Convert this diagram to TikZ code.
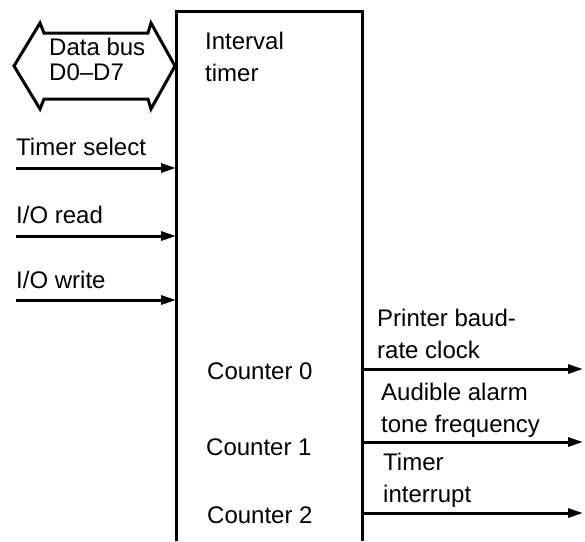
\documentclass[tikz,border=0pt]{standalone}
\usepackage{fontspec}
\setmainfont{Liberation Sans}
\usetikzlibrary{arrows.meta}
\begin{document}
\begin{tikzpicture}[x=1pt,y=-1pt,
  lbl/.style={anchor=base west, inner sep=0pt, font=\fontsize{24}{32}\selectfont, align=left},
  buslbl/.style={lbl, font=\fontsize{24}{24.5}\selectfont},
  sig/.style={line width=3pt, -{Triangle[length=15pt,width=9pt]}},
  boxline/.style={line width=3pt},
]
\useasboundingbox[fill=white] (0,0) rectangle (585,541);
% interval timer block (open at the bottom)
\coordinate (bl) at (176,541);
\coordinate (tl) at (176,11);
\coordinate (tr) at (362,11);
\coordinate (br) at (362,541);
\draw[boxline] (bl) -- (tl) -- (tr) -- (br);
\node[lbl] (title) at (205,81) {Interval\\timer};
\node[lbl] (c0) at (207,379) {Counter 0};
\node[lbl] (c1) at (206,455) {Counter 1};
\node[lbl] (c2) at (207,523) {Counter 2};
% data bus double arrow
\draw[boxline, line join=miter] (14,66) -- (40,23) -- (44,33) -- (148,33) -- (151,23) -- (175,66)
  -- (151,109) -- (148,99) -- (44,99) -- (40,109) -- cycle;
\node[buslbl] (bus) at (49,80) {Data bus\\D0--D7};
% inputs
\node[lbl] (tsl) at (16,155) {Timer select};
\node[lbl] (rdl) at (16,223) {I/O read};
\node[lbl] (wrl) at (16,288) {I/O write};
\coordinate (tsa) at (16,168); \coordinate (tsb) at (176,168);
\coordinate (rda) at (16,236); \coordinate (rdb) at (176,236);
\coordinate (wra) at (16,300); \coordinate (wrb) at (176,300);
\draw[sig] (tsa) -- (tsb);
\draw[sig] (rda) -- (rdb);
\draw[sig] (wra) -- (wrb);
% outputs
\node[lbl] (o0l) at (377,358) {Printer baud-\\rate clock};
\node[lbl] (o1l) at (381,432) {Audible alarm\\tone frequency};
\node[lbl] (o2l) at (383,502) {Timer\\interrupt};
\coordinate (o0a) at (362,369); \coordinate (o0b) at (583,369);
\coordinate (o1a) at (362,442); \coordinate (o1b) at (583,442);
\coordinate (o2a) at (362,513); \coordinate (o2b) at (583,513);
\draw[sig] (o0a) -- (o0b);
\draw[sig] (o1a) -- (o1b);
\draw[sig] (o2a) -- (o2b);
\end{tikzpicture}
\end{document}
